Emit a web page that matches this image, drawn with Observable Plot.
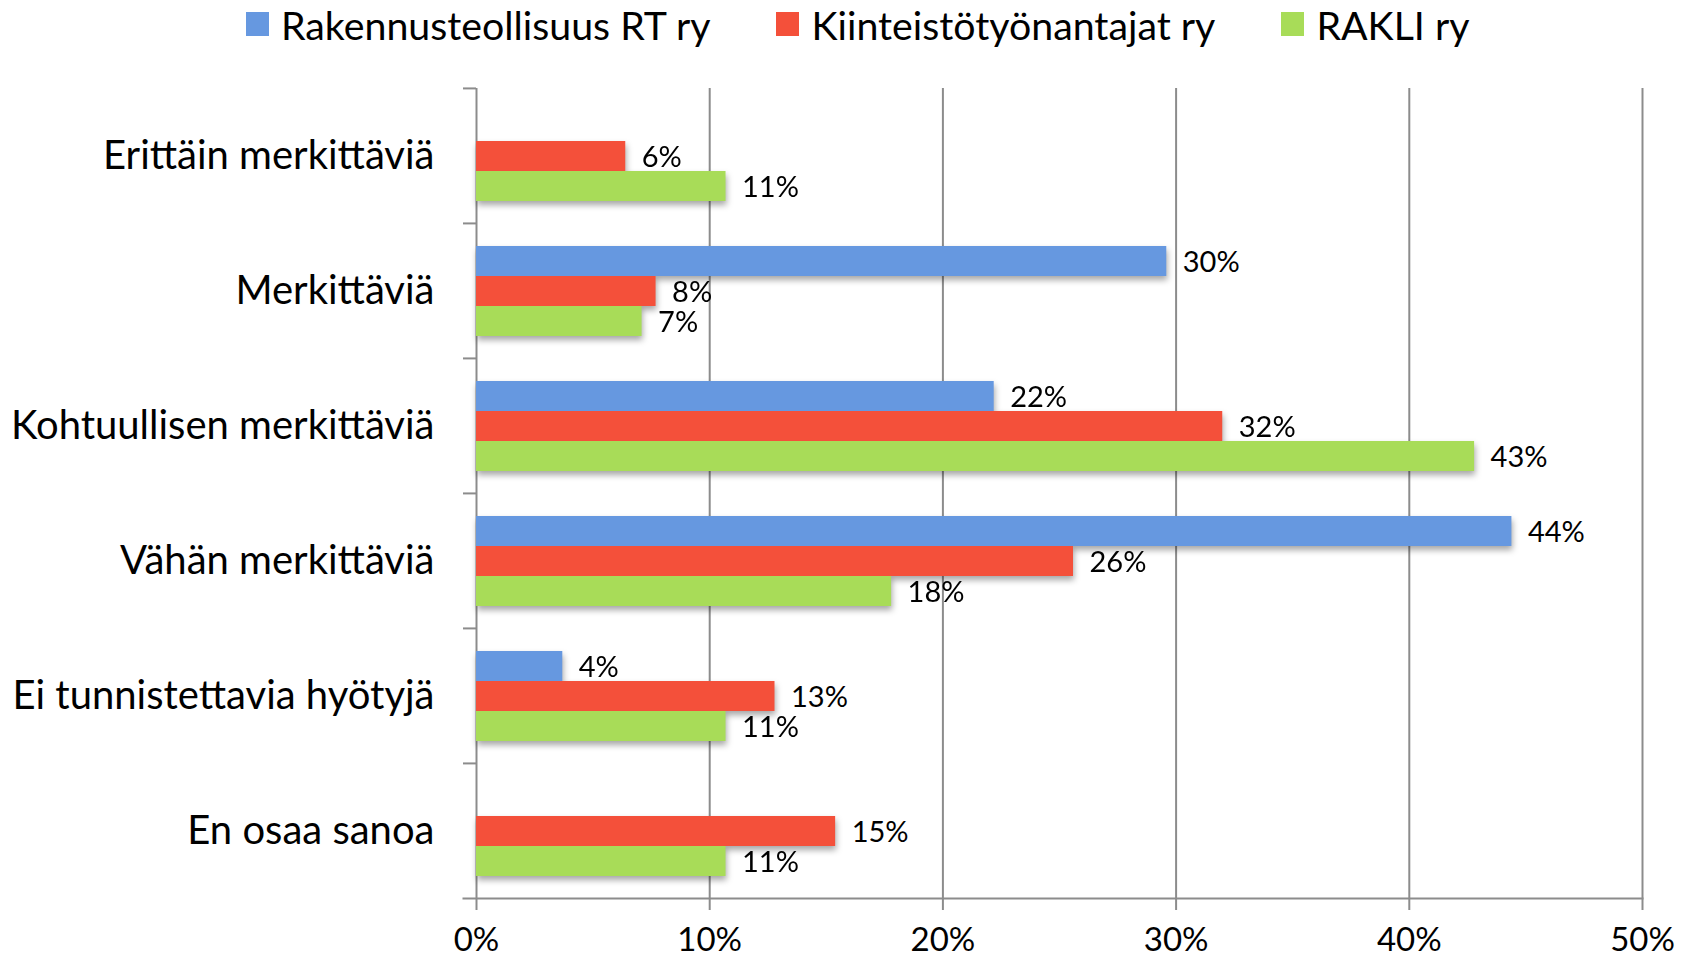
<!DOCTYPE html>
<html>
<head>
<meta charset="utf-8">
<script src="https://cdn.jsdelivr.net/npm/d3@7"></script>
<script src="https://cdn.jsdelivr.net/npm/@observablehq/plot@0.6"></script>
<style>
  html, body { margin: 0; padding: 0; background: #fff; }
  #wrap { position: relative; width: 1688px; height: 961px; font-family: Lato, "Open Sans", sans-serif; }
  #legend { position: absolute; top: 0; left: 246px; height: 48px; display: flex; align-items: center; font-size: 39.3px; color: #000; z-index: 2; }
  .item { display: flex; align-items: center; margin-right: 66px; }
  .sw { width: 23px; height: 24px; margin-right: 12px; }
  #chart { position: absolute; top: 0; left: 0; }
</style>
</head>
<body>
<div id="wrap">
  <div id="legend"></div>
  <div id="chart"></div>
</div>
<script>
const categories = ["Erittäin merkittäviä", "Merkittäviä", "Kohtuullisen merkittäviä", "Vähän merkittäviä", "Ei tunnistettavia hyötyjä", "En osaa sanoa"];
const series = ["Rakennusteollisuus RT ry", "Kiinteistötyönantajat ry", "RAKLI ry"];
const colors = ["#6698E0", "#F4503A", "#A8DC58"];
const rtValues    = [null, 0.296, 0.222, 0.444, 0.037, null];
const kiintValues = [0.064, 0.077, 0.320, 0.256, 0.128, 0.154];
const rakliValues = [0.107, 0.071, 0.428, 0.178, 0.107, 0.107];
const xTicks = [0, 0.1, 0.2, 0.3, 0.4, 0.5];

const seriesValues = [rtValues, kiintValues, rakliValues];
const data = [];
categories.forEach((c, i) => {
  series.forEach((s, j) => {
    const v = seriesValues[j][i];
    if (v != null) data.push({category: c, series: s, value: v});
  });
});

const W = 1688, H = 961, mT = 87, mB = 63, mL = 476, mR = 46;
const step = (H - mT - mB) / categories.length;
const grey = "#8c8c8c";
const pct = d3.format(".0%");

const chart = Plot.plot({
  width: W, height: H,
  marginLeft: mL, marginRight: mR, marginTop: mT, marginBottom: mB,
  style: {fontFamily: "Lato, 'Open Sans', sans-serif", color: "#000", background: "transparent"},
  x: {domain: [0, 0.5], axis: null},
  fy: {domain: categories, padding: 0, axis: null, label: null},
  y: {domain: series, paddingInner: 0, paddingOuter: 0.75, axis: null},
  color: {domain: series, range: colors},
  marks: [
    Plot.ruleX(xTicks, {stroke: grey, strokeWidth: 2}),
    Plot.frame({anchor: "bottom", facet: "super", stroke: grey, strokeWidth: 2, insetLeft: -13}),
    Plot.axisX({anchor: "bottom", ticks: xTicks, tickFormat: pct, tickSize: 12, tickPadding: 17, fontSize: 33, stroke: grey, strokeWidth: 2, label: null}),
    Plot.axisFy({anchor: "left", tickSize: 0, tickPadding: 42, fontSize: 40, label: null}),
    Plot.axisFy({anchor: "left", tickSize: 13, tickFormat: () => "", stroke: grey, strokeWidth: 2, dy: -step / 2, label: null}),
    Plot.barX(data, {x: "value", y: "series", fy: "category", fill: "series"}),
    Plot.text(data, {x: "value", y: "series", fy: "category", text: d => pct(d.value), textAnchor: "start", dx: 16, dy: 1, fontSize: 29, fill: "#000"})
  ]
});
document.getElementById("chart").appendChild(chart);
d3.select(chart).selectAll("g[aria-label='bar']").style("filter", "drop-shadow(1px 4px 3px rgba(0,0,0,0.35))");

const legend = d3.select("#legend");
series.forEach((s, j) => {
  const it = legend.append("div").attr("class", "item");
  it.append("div").attr("class", "sw").style("background", colors[j]);
  it.append("span").text(s);
});
</script>
</body>
</html>
